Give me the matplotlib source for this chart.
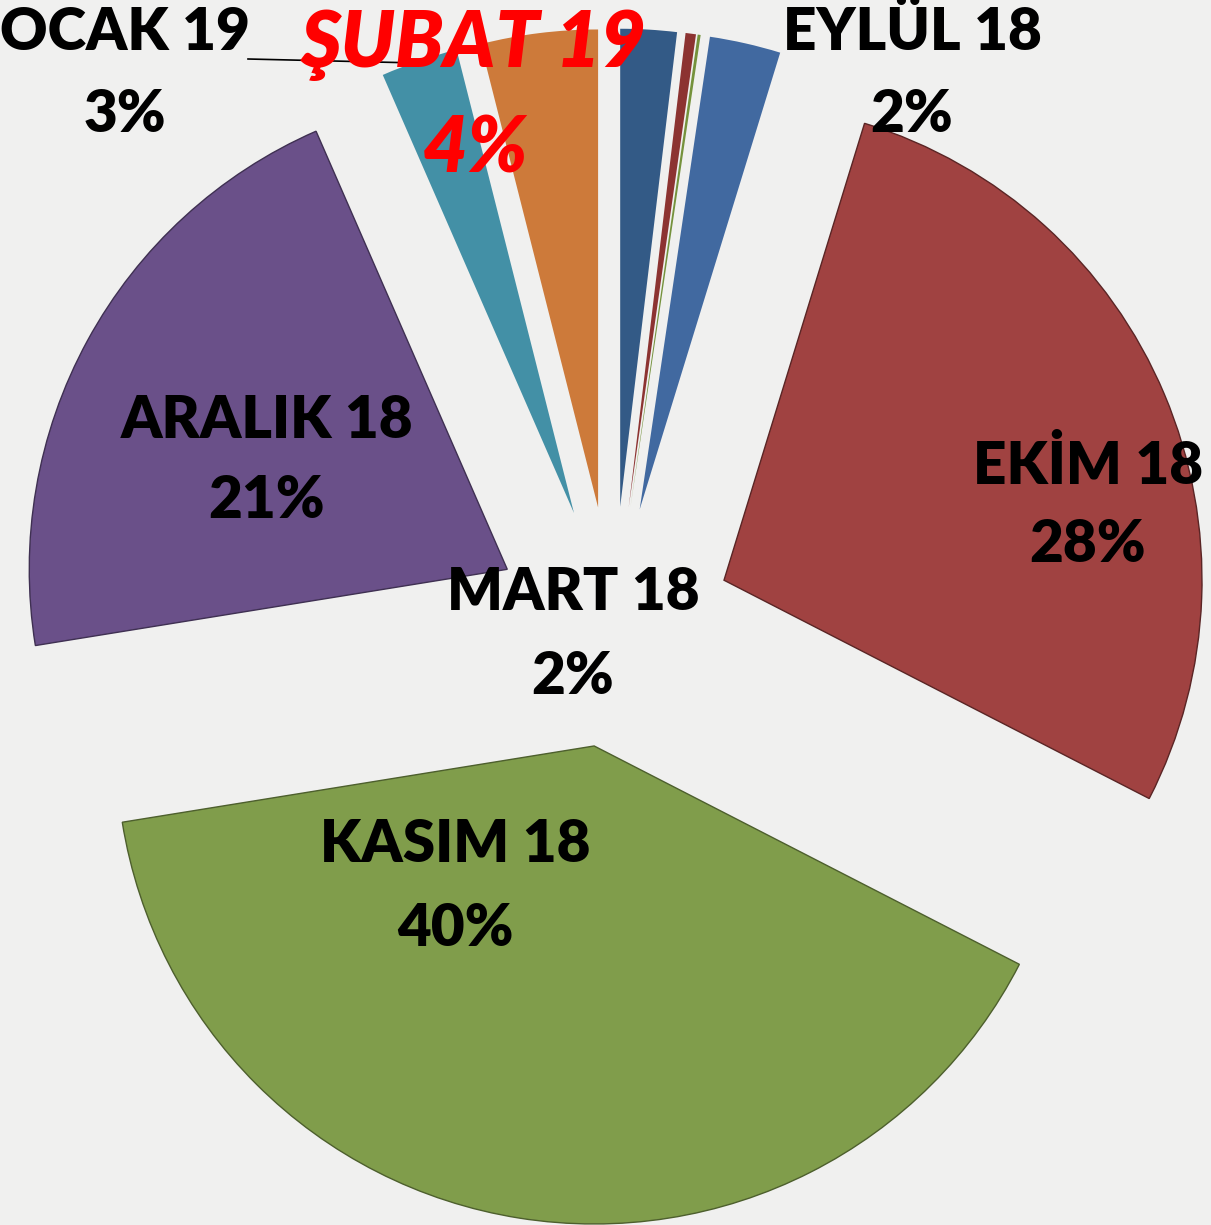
import matplotlib.pyplot as plt

# aylar ve paylar (%)
aylar = ['MART 18', 'NİSAN 18', 'MAYIS 18', 'EYLÜL 18', 'EKİM 18',
         'KASIM 18', 'ARALIK 18', 'OCAK 19', 'ŞUBAT 19']
paylar = [1.9, 0.35, 0.1, 2.4, 27.8, 39.9, 21.0, 2.6, 3.95]
renkler = ['#335a86', '#8c3331', '#75923c', '#4169a0', '#a04241',
           '#809d4b', '#6a5089', '#4390a6', '#cd7a3a']
kenarlar = ['none', 'none', 'none', 'none', '#5a2525',
            '#4d5f2d', '#3f3052', 'none', 'none']

W, H = 1211, 1225
cx, cy, R = 613, 627, 478   # piksel cinsinden merkez ve yaricap


def px(x, y):
    # piksel -> veri koordinati
    return (x - cx) / R, (cy - y) / R


fig = plt.figure(figsize=(W / 100, H / 100), dpi=100)
fig.patch.set_facecolor('#f0f0ef')
ax = fig.add_axes([0, 0, 1, 1])
ax.set_facecolor('#f0f0ef')

wedges, _ = ax.pie(paylar, colors=renkler, startangle=90, counterclock=False,
                   explode=[0.252] * len(paylar), radius=1, center=(0, 0))
for w, k in zip(wedges, kenarlar):
    if k != 'none':
        w.set_edgecolor(k)
        w.set_linewidth(1.0)
    else:
        w.set_linewidth(0)

ax.set_xlim(-cx / R, (W - cx) / R)
ax.set_ylim(-(H - cy) / R, cy / R)
ax.set_aspect('equal')
ax.axis('off')

# etiketler: (ay indeksi, ad x, ad y, yuzde y)
etiketler = [(7, 125, 33, 115), (3, 912, 32, 115), (4, 1088, 465, 545),
             (5, 455, 845, 928), (6, 267, 420, 500), (0, 573, 592, 676)]
for i, x, y1, y2 in etiketler:
    ax.text(*px(x, y1), aylar[i], ha='center', va='center', fontsize=42,
            fontweight='heavy', family='Lato', color='black')
    ax.text(*px(x, y2), f'{round(paylar[i])}%', ha='center', va='center',
            fontsize=42, fontweight='heavy', family='Lato', color='black')

# ŞUBAT vurgulu
ax.text(*px(474, 45), aylar[8], ha='center', va='center', fontsize=56,
        fontweight='heavy', style='italic', family='Lato', color='red')
ax.text(*px(476, 150), f'{round(paylar[8])}%', ha='center', va='center',
        fontsize=56, fontweight='heavy', style='italic', family='Lato', color='red')

# OCAK icin kilavuz cizgi
x1, y1 = px(248, 59)
x2, y2 = px(418, 63)
ax.plot([x1, x2], [y1, y2], color='black', lw=1.2)

fig.savefig('out.png', dpi=100, facecolor=fig.get_facecolor())
